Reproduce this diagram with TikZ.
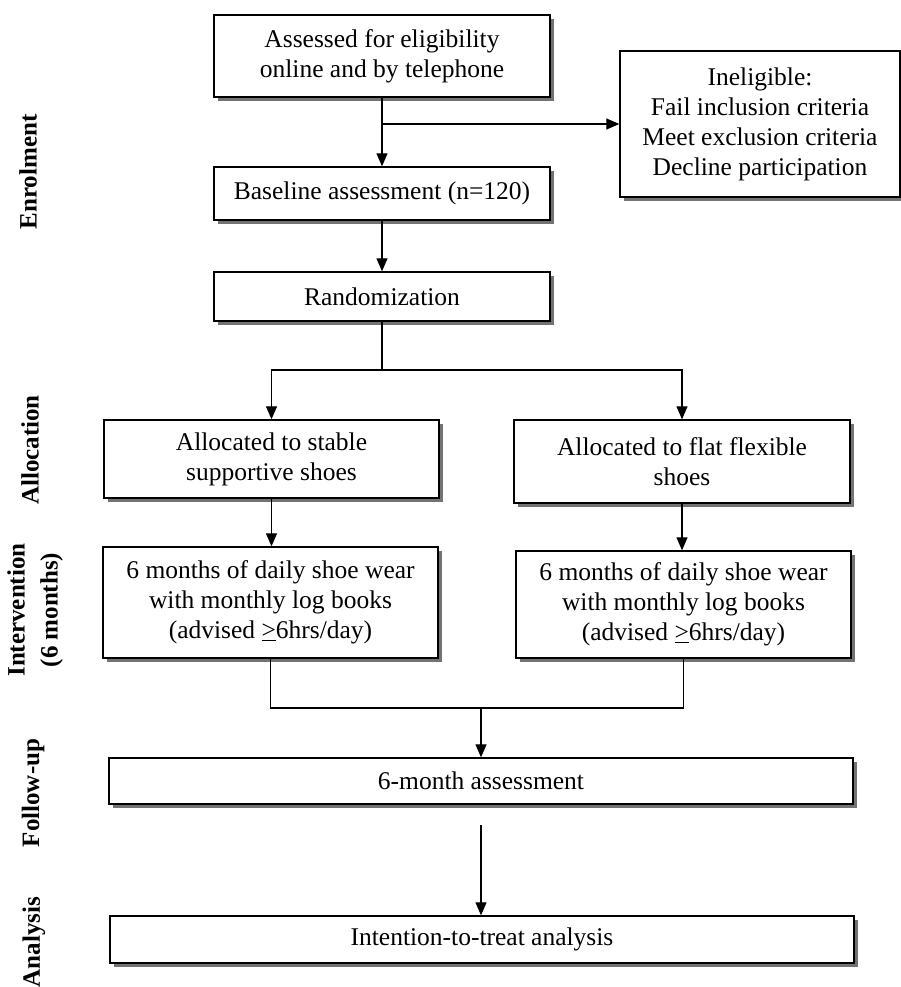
\documentclass[tikz,border=0pt]{standalone}
\usepackage{fontspec}
\setmainfont{Liberation Serif}
\usetikzlibrary{arrows.meta,shadows}
\begin{document}
\begin{tikzpicture}[x=1pt,y=-1pt,
  box/.style={draw,line width=1.4pt,fill=white,inner sep=0pt,align=center,
    font=\fontsize{25.5}{30}\selectfont,
    drop shadow={shadow xshift=4pt,shadow yshift=-4pt,fill=black!55,opacity=1}},
  phase/.style={rotate=90,font=\fontsize{25}{33}\selectfont\bfseries,align=center,inner sep=0pt},
  conn/.style={line width=1.3pt},
  arr/.style={conn,-{Triangle[length=13pt,width=11pt]}}]
\useasboundingbox (0,0) rectangle (901,987);

\node[box,minimum width=336pt,minimum height=82pt] (assess) at (382,56)
  {Assessed for eligibility\\online and by telephone};
\node[box,minimum width=280pt,minimum height=146pt] (inel) at (760,124)
  {Ineligible:\\Fail inclusion criteria\\Meet exclusion criteria\\Decline participation};
\node[box,minimum width=336pt,minimum height=53pt] (base) at (382,193.5)
  {Baseline assessment (n=120)};
\node[box,minimum width=336pt,minimum height=49pt] (rand) at (382,296.5)
  {Randomization};
\node[box,minimum width=335pt,minimum height=78pt] (allocL) at (271.5,459)
  {Allocated to stable\\supportive shoes};
\node[box,minimum width=336pt,minimum height=83pt] (allocR) at (682,461.5)
  {Allocated to flat flexible\\shoes};
\node[box,minimum width=335pt,minimum height=111pt] (intL) at (270.5,602.5)
  {6 months of daily shoe wear\\with monthly log books\\(advised \underline{>}6hrs/day)};
\node[box,minimum width=335pt,minimum height=107pt] (intR) at (683.5,604.5)
  {6 months of daily shoe wear\\with monthly log books\\(advised \underline{>}6hrs/day)};
\node[box,minimum width=744pt,minimum height=46pt] (follow) at (481,781)
  {6-month assessment};
\node[box,minimum width=744pt,minimum height=47pt] (anal) at (482,939.5)
  {Intention-to-treat analysis};

\node[phase] (lenrol) at (28,172) {Enrolment};
\node[phase] (lalloc) at (30,450) {Allocation};
\node[phase] (linterv) at (35,610) {Intervention\\(6 months)};
\node[phase] (lfollow) at (33,793) {Follow-up};
\node[phase] (lanal) at (34,942) {Analysis};

\draw[arr] (assess.south) -- (base.north);
\coordinate (j1) at (assess.south |- inel.west);
\draw[arr] (j1) -- (inel.west);
\draw[arr] (base.south) -- (rand.north);
\coordinate (j2) at (382,370);
\draw[conn] (rand.south) -- (j2);
\draw[arr] (j2) -| (allocL.north);
\draw[arr] (j2) -| (allocR.north);
\draw[arr] (allocL.south) -- (allocL.south |- intL.north);
\draw[arr] (allocR.south) -- (allocR.south |- intR.north);
\coordinate (m) at (481,708);
\draw[conn] (intL.south) |- (m) -| (intR.south);
\draw[arr] (m) -- (follow.north);
\coordinate (f2) at (481,825);
\draw[arr] (f2) -- (f2 |- anal.north);
\end{tikzpicture}
\end{document}
